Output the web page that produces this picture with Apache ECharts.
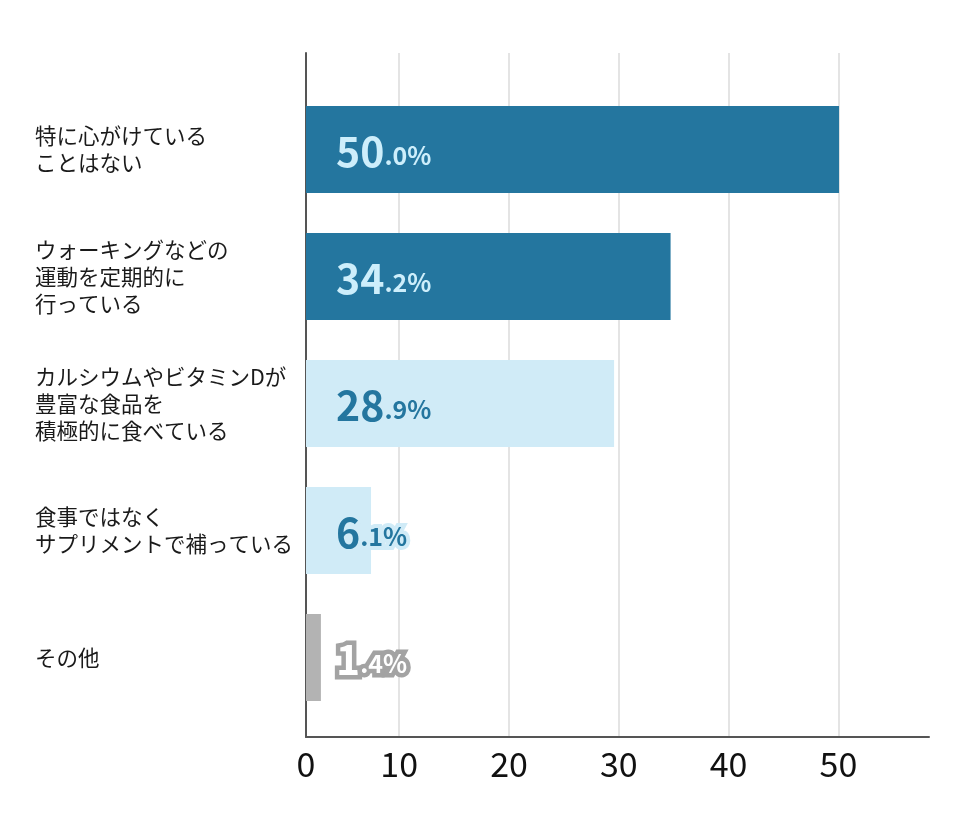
<!DOCTYPE html>
<html>
<head>
<meta charset="utf-8">
<script src="https://cdn.jsdelivr.net/npm/echarts@6/dist/echarts.min.js"></script>
<style>html,body{margin:0;padding:0;background:#fff}#c{width:960px;height:830px}</style>
</head>
<body>
<div id="c"></div>
<script>
const categories = [
  '特に心がけている\nことはない',
  'ウォーキングなどの\n運動を定期的に\n行っている',
  'カルシウムやビタミンDが\n豊富な食品を\n積極的に食べている',
  '食事ではなく\nサプリメントで補っている',
  'その他'
];
const values = [50.0, 34.2, 28.9, 6.1, 1.4];
const tickValues = [0, 10, 20, 30, 40, 50];

const FONT = '"Noto Sans CJK JP", "Noto Sans", sans-serif';
const DARK = '#24769f', LIGHT = '#d0ebf7', GRAY = '#b3b3b3';
const barColors = [DARK, DARK, LIGHT, LIGHT, GRAY];
const txtColors = ['#cdeefb', '#cdeefb', DARK, DARK, '#ffffff'];
const borderColors = ['transparent', 'transparent', LIGHT, LIGHT, '#a3a3a3'];
const borderWidths = [0, 0, 0, 8, 9];

const data = values.map((v, i) => {
  const tc = txtColors[i], bc = borderColors[i], bw = borderWidths[i];
  return {
    value: v,
    itemStyle: { color: barColors[i] },
    label: {
      rich: {
        a: { fontSize: 41, fontWeight: 'bold', fontFamily: FONT, color: tc, textBorderColor: bc, textBorderWidth: bw, lineHeight: 44, verticalAlign: 'bottom' },
        b: { fontSize: 25, fontWeight: 600, fontFamily: FONT, color: tc, textBorderColor: bc, textBorderWidth: bw, lineHeight: 44, verticalAlign: 'bottom', padding: [0, 0, 3, 0] }
      }
    }
  };
});

// secondary (gridline) axis calibration
const gridMin = 1.51, gridMax = 58.25;

const chart = echarts.init(document.getElementById('c'), null, { renderer: 'canvas' });
chart.setOption({
  animation: false,
  backgroundColor: '#fff',
  grid: [
    { left: 306, right: 31, top: 86, bottom: 109 },
    { left: 306, right: 31, top: 53, bottom: 93 }
  ],
  xAxis: [
    { gridIndex: 0, type: 'value', min: 0, max: 58.44, show: false, splitLine: { show: false } },
    {
      gridIndex: 1, type: 'value', min: gridMin, max: gridMax,
      axisLine: { show: true, lineStyle: { color: '#555', width: 2 } },
      axisTick: { show: false, customValues: tickValues.slice(1) },
      axisLabel: {
        customValues: [gridMin].concat(tickValues.slice(1)),
        formatter: v => (v < 5 ? '0' : String(Math.round(v))),
        fontSize: 34, color: '#111', fontFamily: FONT, margin: 10
      },
      splitLine: { show: true, lineStyle: { color: '#e4e4e4', width: 2 } }
    }
  ],
  yAxis: [
    {
      gridIndex: 0, type: 'category', data: categories, inverse: true,
      axisLine: { show: false }, axisTick: { show: false },
      axisLabel: { align: 'left', margin: 271, fontSize: 21.5, lineHeight: 27, color: '#1a1a1a', fontFamily: FONT }
    },
    {
      gridIndex: 1, type: 'value', min: 0, max: 1,
      axisLine: { show: true, lineStyle: { color: '#555', width: 2 } },
      axisTick: { show: false }, axisLabel: { show: false }, splitLine: { show: false }
    }
  ],
  series: [{
    type: 'bar', xAxisIndex: 0, yAxisIndex: 0,
    barWidth: 87,
    data: data,
    z: 3,
    label: {
      show: true, position: 'insideLeft', distance: 30,
      formatter: p => {
        const s = p.value.toFixed(1).split('.');
        return '{a|' + s[0] + '}{b|.' + s[1] + '%}';
      }
    }
  }]
});
</script>
</body>
</html>
